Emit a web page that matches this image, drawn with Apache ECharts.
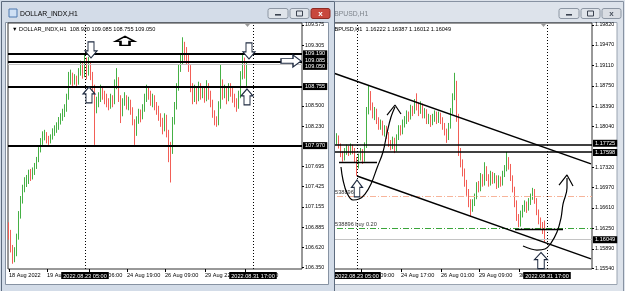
<!DOCTYPE html>
<html><head><meta charset="utf-8">
<script src="https://cdn.jsdelivr.net/npm/echarts@6/dist/echarts.min.js"></script>
<style>html,body{margin:0;padding:0;background:#dce2ea}#c{width:625px;height:291px}</style>
</head><body><div id="c"></div>
<script>
// ---------- DOLLAR_INDX,H1 : [open, close, low, high] ----------
const dxOHLC = [
[106.90,106.80,106.72,106.95],[106.80,106.60,106.55,106.85],[106.60,106.45,106.40,106.65],[106.45,106.55,106.42,106.62],
[106.55,106.75,106.50,106.80],[106.75,107.05,106.72,107.10],[107.05,107.25,107.00,107.30],[107.25,107.40,107.20,107.45],
[107.40,107.47,107.35,107.55],[107.47,107.50,107.42,107.58],[107.50,107.60,107.46,107.65],[107.60,107.55,107.50,107.66],
[107.55,107.62,107.52,107.68],[107.62,107.70,107.58,107.74],[107.70,107.78,107.66,107.82],[107.78,107.90,107.75,107.95],
[107.90,108.02,107.88,108.07],[108.02,108.10,107.98,108.16],[108.10,108.12,108.04,108.18],[108.12,108.05,108.00,108.15],
[108.05,108.03,107.98,108.10],[108.03,108.08,108.00,108.12],[108.08,108.15,108.05,108.20],[108.15,108.18,108.10,108.24],
[108.18,108.22,108.14,108.28],[108.22,108.30,108.18,108.35],[108.30,108.35,108.25,108.40],[108.35,108.40,108.30,108.46],
[108.40,108.45,108.35,108.52],[108.45,108.60,108.42,108.66],[108.60,108.85,108.58,108.95],[108.85,108.90,108.78,108.98],
[108.90,108.82,108.76,108.94],[108.82,108.85,108.78,108.92],[108.85,108.80,108.74,108.90],[108.80,108.95,108.78,109.00],
[108.95,109.05,108.90,109.10],[109.05,108.90,108.86,109.08],[108.90,109.10,108.88,109.20],[109.10,108.95,108.85,109.14],
[108.95,109.05,108.90,109.15],[109.05,108.90,108.84,109.08],[108.90,108.75,108.70,108.95],[108.75,108.50,107.98,108.78],
[108.50,108.55,108.40,108.62],[108.55,108.60,108.48,108.68],[108.60,108.70,108.55,108.78],[108.70,108.65,108.58,108.75],
[108.65,108.60,108.52,108.70],[108.60,108.55,108.48,108.66],[108.55,108.50,108.44,108.60],[108.50,108.60,108.46,108.66],
[108.60,108.55,108.48,108.64],[108.55,108.80,108.52,108.85],[108.80,108.85,108.72,109.00],[108.85,108.60,108.55,108.88],
[108.60,108.40,108.27,108.64],[108.40,108.55,108.36,108.60],[108.55,108.60,108.50,108.68],[108.60,108.50,108.45,108.64],
[108.50,108.55,108.44,108.62],[108.55,108.45,108.38,108.58],[108.45,108.30,108.24,108.48],[108.30,108.15,107.98,108.32],
[108.15,108.30,108.10,108.36],[108.30,108.40,108.26,108.46],[108.40,108.35,108.28,108.45],[108.35,108.45,108.32,108.52],
[108.45,108.60,108.42,108.66],[108.60,108.70,108.55,108.78],[108.70,108.65,108.58,108.75],[108.65,108.55,108.50,108.70],
[108.55,108.60,108.48,108.66],[108.60,108.50,108.44,108.64],[108.50,108.45,108.38,108.55],[108.45,108.35,108.30,108.50],
[108.35,108.30,108.22,108.40],[108.30,108.20,108.12,108.34],[108.20,108.35,108.16,108.40],[108.35,108.15,108.08,108.38],
[108.15,107.95,107.75,108.18],[107.95,107.90,107.48,108.02],[107.90,108.30,107.86,108.35],[108.30,108.50,108.25,108.55],
[108.50,108.75,108.45,108.80],[108.75,109.00,108.70,109.05],[109.00,109.10,108.95,109.20],[109.10,109.25,109.05,109.41],
[109.25,109.20,109.10,109.35],[109.20,109.15,109.05,109.28],[109.15,109.00,108.95,109.20],[109.00,108.75,108.68,109.04],
[108.75,108.60,108.52,108.80],[108.60,108.70,108.55,108.78],[108.70,108.60,108.52,108.74],[108.60,108.75,108.56,108.82],
[108.75,108.65,108.58,108.80],[108.65,108.70,108.60,108.76],[108.70,108.60,108.54,108.74],[108.60,108.75,108.56,108.84],
[108.75,108.65,108.58,108.80],[108.65,108.55,108.48,108.70],[108.55,108.40,108.34,108.58],[108.40,108.30,108.24,108.44],
[108.30,108.25,108.22,108.36],[108.25,108.50,108.24,108.56],[108.50,108.80,108.46,109.05],[108.80,108.65,108.58,108.85],
[108.65,108.70,108.60,108.78],[108.70,108.60,108.52,108.74],[108.60,108.75,108.56,108.80],[108.75,108.70,108.62,108.80],
[108.70,108.60,108.54,108.74],[108.60,108.55,108.48,108.66],[108.55,108.50,108.42,108.60],[108.50,108.65,108.46,108.70],
[108.65,108.90,108.60,108.96],[108.90,109.10,108.85,109.19],[109.10,108.92,108.86,109.14],[108.920,109.050,108.755,109.085]
];
const dxSlotCount = 147;
const dxTickSlots = [0, 19, 40, 59, 78, 98, 118];
const dxTickLabels = ['18 Aug 2022', '19 Aug 14:00', '23 Aug 06:00', '24 Aug 19:00', '26 Aug 09:00', '29 Aug 22:00', '31 Aug 13:00'];
const dxYTicks = [106.35, 106.62, 106.885, 107.155, 107.425, 107.695, 108.23, 108.5, 109.305, 109.575];
const dxLevels = [109.19, 109.085, 108.755, 107.97];
const dxBid = 109.05;
const dxVLines = [[38, '2022.08.23 05:00'], [122, '2022.08.31 17:00']];
const dxHeader = '\u25BC DOLLAR_INDX,H1  108.920 109.085 108.755 109.050';

// ---------- GBPUSD,H1 : [open, close, low, high] ----------
const gbOHLC = [
[1.1765,1.1770,1.1758,1.1778],[1.1770,1.1762,1.1755,1.1775],[1.1762,1.1768,1.1756,1.1774],[1.1768,1.1775,1.1762,1.1782],
[1.1775,1.1780,1.1768,1.1786],[1.1780,1.1785,1.1772,1.1792],[1.1785,1.1770,1.1765,1.1788],[1.1770,1.1755,1.1750,1.1774],
[1.1755,1.1748,1.1742,1.1760],[1.1748,1.1760,1.1744,1.1766],[1.1760,1.1765,1.1754,1.1772],[1.1765,1.1758,1.1752,1.1770],
[1.1758,1.1768,1.1754,1.1774],[1.1768,1.1762,1.1755,1.1772],[1.1762,1.1745,1.1740,1.1766],[1.1745,1.1735,1.1717,1.1750],
[1.1735,1.1750,1.1730,1.1756],[1.1750,1.1760,1.1744,1.1766],[1.1760,1.1745,1.1738,1.1764],[1.1745,1.1770,1.1742,1.1776],
[1.1770,1.1830,1.1766,1.1838],[1.1830,1.1860,1.1825,1.1876],[1.1860,1.1840,1.1832,1.1866],[1.1840,1.1825,1.1818,1.1846],
[1.1825,1.1830,1.1815,1.1838],[1.1830,1.1815,1.1808,1.1835],[1.1815,1.1805,1.1798,1.1820],[1.1805,1.1810,1.1798,1.1816],
[1.1810,1.1795,1.1788,1.1814],[1.1795,1.1800,1.1786,1.1806],[1.1800,1.1790,1.1782,1.1805],[1.1790,1.1775,1.1768,1.1794],
[1.1775,1.1770,1.1762,1.1780],[1.1770,1.1780,1.1764,1.1786],[1.1780,1.1765,1.1757,1.1784],[1.1765,1.1785,1.1760,1.1790],
[1.1785,1.1800,1.1780,1.1806],[1.1800,1.1795,1.1788,1.1806],[1.1795,1.1810,1.1790,1.1816],[1.1810,1.1815,1.1802,1.1822],
[1.1815,1.1825,1.1808,1.1832],[1.1825,1.1820,1.1812,1.1830],[1.1820,1.1835,1.1816,1.1842],[1.1835,1.1830,1.1822,1.1840],
[1.1830,1.1845,1.1826,1.1852],[1.1845,1.1840,1.1832,1.1862],[1.1840,1.1830,1.1822,1.1846],[1.1830,1.1840,1.1826,1.1848],
[1.1840,1.1825,1.1818,1.1844],[1.1825,1.1830,1.1818,1.1836],[1.1830,1.1815,1.1808,1.1834],[1.1815,1.1820,1.1808,1.1826],
[1.1820,1.1810,1.1803,1.1824],[1.1810,1.1820,1.1806,1.1826],[1.1820,1.1825,1.1812,1.1832],[1.1825,1.1815,1.1808,1.1830],
[1.1815,1.1825,1.1810,1.1830],[1.1825,1.1815,1.1808,1.1828],[1.1815,1.1805,1.1798,1.1820],[1.1805,1.1795,1.1788,1.1810],
[1.1795,1.1785,1.1775,1.1800],[1.1785,1.1805,1.1780,1.1810],[1.1805,1.1830,1.1800,1.1836],[1.1830,1.1855,1.1826,1.1862],
[1.1855,1.1880,1.1850,1.1898],[1.1880,1.1820,1.1812,1.1884],[1.1820,1.1760,1.1752,1.1826],[1.1760,1.1740,1.1732,1.1766],
[1.1740,1.1725,1.1716,1.1746],[1.1725,1.1705,1.1698,1.1730],[1.1705,1.1690,1.1682,1.1710],[1.1690,1.1670,1.1662,1.1694],
[1.1670,1.1660,1.1646,1.1676],[1.1660,1.1670,1.1654,1.1676],[1.1670,1.1680,1.1664,1.1686],[1.1680,1.1700,1.1676,1.1706],
[1.1700,1.1695,1.1688,1.1708],[1.1695,1.1715,1.1690,1.1722],[1.1715,1.1705,1.1698,1.1720],[1.1705,1.1730,1.1700,1.1741],
[1.1730,1.1715,1.1708,1.1734],[1.1715,1.1705,1.1698,1.1720],[1.1705,1.1720,1.1700,1.1726],[1.1720,1.1710,1.1703,1.1724],
[1.1710,1.1715,1.1704,1.1722],[1.1715,1.1700,1.1694,1.1718],[1.1700,1.1712,1.1696,1.1718],[1.1712,1.1705,1.1698,1.1716],
[1.1705,1.1720,1.1700,1.1726],[1.1720,1.1730,1.1715,1.1736],[1.1730,1.1745,1.1725,1.1759],[1.1745,1.1735,1.1728,1.1750],
[1.1735,1.1715,1.1708,1.1738],[1.1715,1.1695,1.1688,1.1718],[1.1695,1.1670,1.1662,1.1698],[1.1670,1.1645,1.1638,1.1674],
[1.1645,1.1632,1.1627,1.1650],[1.1632,1.1650,1.1628,1.1656],[1.1650,1.1660,1.1644,1.1666],[1.1660,1.1668,1.1654,1.1674],
[1.1668,1.1660,1.1652,1.1672],[1.1660,1.1672,1.1656,1.1678],[1.1672,1.1680,1.1666,1.1686],[1.1680,1.1690,1.1675,1.1696],
[1.1690,1.1675,1.1668,1.1694],[1.1675,1.1655,1.1648,1.1678],[1.1655,1.1640,1.1632,1.1658],[1.1640,1.1630,1.1622,1.1644],
[1.1630,1.16222,1.1615,1.1636],[1.16222,1.16049,1.16012,1.16387]
];
const gbSlotCount = 133;
const gbTickSlots = [17, 37, 57, 76, 96];
const gbTickLabels = ['23 Aug 09:00', '24 Aug 17:00', '26 Aug 01:00', '29 Aug 09:00', '30 Aug 17:00'];
const gbYTicks = [1.1554, 1.1589, 1.1625, 1.1661, 1.1697, 1.1732, 1.1804, 1.1839, 1.1875, 1.1911, 1.1947, 1.1982];
const gbLevels = [1.17725, 1.17598];
const gbBid = 1.16049;
const gbBuy = 1.1625, gbTp = 1.16805;
const gbVLines = [[15, '2022.08.23 05:00'], [110, '2022.08.31 17:00']];
const gbHeader = '\u25BC GBPUSD,H1  1.16222 1.16387 1.16012 1.16049';
const gbTrendUpper = [[0, 1.19016], [132, 1.17382]];
const gbTrendLower = [[15, 1.17168], [132, 1.15714]];
const gbSegA = [[6, 1.17414], [25, 1.17414]];
const gbSegB = [[94, 1.16237], [118, 1.16237]];
const gbCurve1 = [[6.5,1.17326],[8,1.17098],[10,1.16869],[13,1.16747],[16,1.16764],[18.5,1.16852],[21.5,1.17028],[25,1.17309],[27.5,1.1759],[30,1.17923],[32,1.18204],[33.5,1.1838]];
const gbHead1 = [[29.5,1.18239],[33.5,1.18415],[36.5,1.18257]];
const gbCurve2 = [[98,1.15939],[101.5,1.15886],[105,1.15868],[109,1.15886],[112,1.15991],[114.5,1.16185],[116.5,1.1643],[118,1.16676],[119.5,1.16957],[120,1.17133]];
const gbHead2 = [[116,1.1701],[119.5,1.17186],[122.5,1.16993]];

// ---------- arrow symbols ----------
const P_DOWN = 'path://M3,0 L9,0 L9,9 L12,9 L6,16 L0,9 L3,9 Z';
const P_UP = 'path://M6,0 L12,7 L9,7 L9,16 L3,16 L3,7 L0,7 Z';
const P_RIGHT = 'path://M0,4 L12,4 L12,0 L20,6.5 L12,13 L12,9 L0,9 Z';
const P_HOUSE = 'path://M0,5 L9.5,0 L19,5 L14,5 L14,9 L5,9 L5,5 Z';
const dxArrows = [[41,109.242,P_DOWN,[12,16]],[40,108.644,P_UP,[12,16]],[58,109.362,P_HOUSE,[19,9]],[120,109.229,P_DOWN,[12,16]],[119,108.617,P_UP,[12,16]],[141,109.096,P_RIGHT,[20,12]]];
const gbArrows = [[15,1.1695,P_UP,[11,17]],[107,1.15684,P_UP,[13,16]]];

const FF = '"Liberation Sans", Arial, sans-serif';
const FS = 5.6;

function cats(n){ const a=[]; for(let i=0;i<n;i++) a.push(String(i)); return a; }
function tickMap(slots, labels){ const m={}; slots.forEach((s,k)=>m[s]=labels[k]); return m; }
const dxMap = tickMap(dxTickSlots, dxTickLabels);
const gbMap = tickMap(gbTickSlots, gbTickLabels);

function tag(txt, extra){ return Object.assign({show:true, position:'end', distance:1, formatter:txt, backgroundColor:'#000', color:'#fff', fontSize:FS, fontFamily:FF, padding:[1,2,0,2], lineHeight:6}, extra||{}); }

function xAxisFor(gi, n, map, z){
  return {type:'category', gridIndex:gi, data:cats(n), boundaryGap:true, z:z,
    axisLine:{show:false},
    axisTick:{show:true, alignWithLabel:true, length:3, interval:(i)=>map[i]!==undefined, lineStyle:{color:'#000'}},
    axisLabel:{show:true, interval:(i)=>map[i]!==undefined, formatter:(v,i)=>map[i]||'', align:'left', margin:3, fontSize:FS, fontFamily:FF, color:'#000'},
    splitLine:{show:false}};
}
function yAxisFor(gi, min, max, ticks, dec, z){
  return {type:'value', gridIndex:gi, position:'right', min:min, max:max, z:z, scale:true,
    axisLine:{show:false}, splitLine:{show:false},
    axisTick:{show:true, customValues:ticks, length:2, lineStyle:{color:'#000'}},
    axisLabel:{show:true, customValues:ticks, formatter:(v)=>Number(v).toFixed(dec), margin:3, fontSize:FS-0.3, fontFamily:FF, color:'#000'}};
}
const candleStyle = {color:'#45b045', color0:'#f25e56', borderColor:'#45b045', borderColor0:'#f25e56', borderWidth:1};

function vline(v){ return {xAxis:v[0], lineStyle:{type:[1,2], color:'#000', width:1}, label:tag(v[1], {position:'start', distance:3, padding:[1,2,0,2]})}; }

const chart = echarts.init(document.getElementById('c'), null, {renderer:'canvas'});

function btns(x0, z, active){
  const els=[]; const xs=[x0, x0+22, x0+43]; const ws=[20,19,19];
  xs.forEach((x,k)=>{
    const close = k===2;
    els.push({type:'rect', z:z, z2:10, shape:{x:x, y:8.5, width:ws[k], height:10, r:2},
      style:{fill: close ? (active ? '#c8483e' : '#d9dde3') : '#dfe4ea', stroke: close && active ? '#8e2b25' : '#8c96a3', lineWidth:1}});
  });
  els.push({type:'rect', z:z, z2:11, shape:{x:xs[0]+7, y:14, width:6, height:1.6}, style:{fill:'#3b4350'}});
  els.push({type:'rect', z:z, z2:11, shape:{x:xs[1]+6.5, y:11, width:6, height:5}, style:{fill:'none', stroke:'#3b4350', lineWidth:1}});
  els.push({type:'text', z:z, z2:11, x:xs[2]+9.5, y:13.5, style:{text:'x', fill: active ? '#fff' : '#4a525e', font:'bold 8px '+FF, align:'center', verticalAlign:'middle'}});
  return els;
}

const graphics = [].concat(
  [{type:'rect', z:0, z2:0, shape:{x:330, y:0, width:295, height:291}, style:{fill:'#dde3eb'}},
   {type:'rect', z:0, z2:1, shape:{x:330.5, y:1.5, width:293, height:295}, style:{fill:'none', stroke:'#8792a2', lineWidth:1}},
   {type:'text', z:0, z2:2, x:329, y:14, style:{text:'GBPUSD,H1', fill:'#7d838b', font:'6.8px '+FF, verticalAlign:'middle'}},
   {type:'rect', z:0, z2:3, shape:{x:330, y:22.5, width:287, height:262}, style:{fill:'#fff', stroke:'#9aa4b1', lineWidth:1}},
   {type:'text', z:0, z2:4, x:323, y:29, style:{text:gbHeader, fill:'#000', font:FS+'px '+FF, verticalAlign:'middle'}},
   {type:'polygon', z:0, z2:4, shape:{points:[[541,24],[546,24],[543.5,27]]}, style:{fill:'#9a9a9a'}}],
  btns(559, 0, false),
  [{type:'rect', z:50, z2:0, shape:{x:0, y:0, width:335, height:291}, style:{fill:'#d3dce8'}},
   {type:'rect', z:50, z2:1, shape:{x:1.5, y:1.5, width:333, height:295}, style:{fill:'none', stroke:'#5d6b7e', lineWidth:1}},
   {type:'rect', z:50, z2:2, shape:{x:9, y:9, width:8, height:8}, style:{fill:'#cfe0f4', stroke:'#4d79b0', lineWidth:1}},
   {type:'text', z:50, z2:2, x:20, y:14, style:{text:'DOLLAR_INDX,H1', fill:'#000', font:'6.8px '+FF, verticalAlign:'middle'}},
   {type:'rect', z:50, z2:3, shape:{x:5.5, y:22.5, width:323, height:262}, style:{fill:'#fff', stroke:'#8793a3', lineWidth:1}},
   {type:'text', z:70, z2:0, x:12, y:29, style:{text:dxHeader, fill:'#000', font:FS+'px '+FF, verticalAlign:'middle'}},
   {type:'polygon', z:70, z2:0, shape:{points:[[245,24],[250,24],[247.5,27]]}, style:{fill:'#9a9a9a'}}],
  btns(268, 50, true)
);

const option = {
  animation:false,
  grid:[
    {left:8, top:23, width:294, height:246, show:true, borderColor:'#333', borderWidth:1, backgroundColor:'transparent', z:60},
    {left:326, top:23, width:266, height:246, show:true, borderColor:'#333', borderWidth:1, backgroundColor:'transparent', z:1}
  ],
  xAxis:[ xAxisFor(0, dxSlotCount, dxMap, 60), xAxisFor(1, gbSlotCount, gbMap, 1) ],
  yAxis:[ yAxisFor(0, 106.33, 109.60, dxYTicks, 3, 60), yAxisFor(1, 1.15535, 1.19855, gbYTicks, 5, 1) ],
  graphic:{elements:graphics},
  series:[
    {type:'candlestick', xAxisIndex:0, yAxisIndex:0, data:dxOHLC, barWidth:1, itemStyle:candleStyle, z:61, silent:true,
     markLine:{silent:true, symbol:'none', animation:false, z:62, precision:5,
       data:[].concat(
         dxLevels.map((v,k)=>({yAxis:v, lineStyle:{color:'#000', width:2, type:'solid'}, label:tag(v.toFixed(3), {offset:[0, k===1?-1.5:0]})})),
         [{yAxis:dxBid, lineStyle:{color:'#c4c4c4', width:1, type:'solid'}, label:tag(dxBid.toFixed(3), {offset:[0,2]})}],
         dxVLines.map(vline))},
     markPoint:{silent:true, animation:false, z:63, label:{show:false},
       itemStyle:{color:'#fff', borderColor:'#1e2a40', borderWidth:1.1},
       data:dxArrows.map(a=>({coord:[a[0],a[1]], symbol:a[2], symbolSize:a[3],
         itemStyle: a[2]===P_HOUSE ? {borderWidth:1.8, borderColor:'#000', color:'#fff'} : undefined}))}
    },
    {type:'candlestick', xAxisIndex:1, yAxisIndex:1, data:gbOHLC, barWidth:1, itemStyle:candleStyle, z:2, silent:true,
     markLine:{silent:true, symbol:'none', animation:false, z:3, precision:5,
       data:[].concat(
         gbLevels.map((v,k)=>({yAxis:v, lineStyle:{color:'#000', width:1.6, type:'solid'}, label:tag(v.toFixed(5), {offset:[0, k===0?-1:1]})})),
         [{yAxis:gbBid, lineStyle:{color:'#c4c4c4', width:1, type:'solid'}, label:tag(gbBid.toFixed(5))}],
         [{yAxis:gbBuy, lineStyle:{color:'#3aa53a', width:1, type:[6,2,1,2]}, label:{show:true, position:'insideStartTop', distance:[6,1], formatter:'#538896 buy 0.20', color:'#333', fontSize:FS, fontFamily:FF}}],
         [{yAxis:gbTp, lineStyle:{color:'#f7b49a', width:1, type:[6,2,1,2]}, label:{show:true, position:'insideStartTop', distance:[6,1], formatter:'#538896 tp', color:'#333', fontSize:FS, fontFamily:FF}}],
         [[{coord:gbTrendUpper[0]},{coord:gbTrendUpper[1]}],[{coord:gbTrendLower[0]},{coord:gbTrendLower[1]}],
          [{coord:gbSegA[0]},{coord:gbSegA[1]}],[{coord:gbSegB[0]},{coord:gbSegB[1]}]].map(p=>[
            Object.assign({lineStyle:{color:'#000', width:1.4, type:'solid'}, label:{show:false}}, p[0]), p[1]]),
         gbVLines.map(vline))},
     markPoint:{silent:true, animation:false, z:4, label:{show:false},
       itemStyle:{color:'#fff', borderColor:'#1e2a40', borderWidth:1.1},
       data:gbArrows.map(a=>({coord:[a[0],a[1]], symbol:a[2], symbolSize:a[3]}))}
    },
    {type:'line', xAxisIndex:1, yAxisIndex:1, data:gbCurve1, smooth:0.4, symbol:'none', silent:true, z:4, lineStyle:{color:'#000', width:1.2}},
    {type:'line', xAxisIndex:1, yAxisIndex:1, data:gbHead1, smooth:false, symbol:'none', silent:true, z:4, lineStyle:{color:'#000', width:1.2}},
    {type:'line', xAxisIndex:1, yAxisIndex:1, data:gbCurve2, smooth:0.4, symbol:'none', silent:true, z:4, lineStyle:{color:'#000', width:1.2}},
    {type:'line', xAxisIndex:1, yAxisIndex:1, data:gbHead2, smooth:false, symbol:'none', silent:true, z:4, lineStyle:{color:'#000', width:1.2}}
  ]
};
chart.setOption(option);
</script></body></html>
